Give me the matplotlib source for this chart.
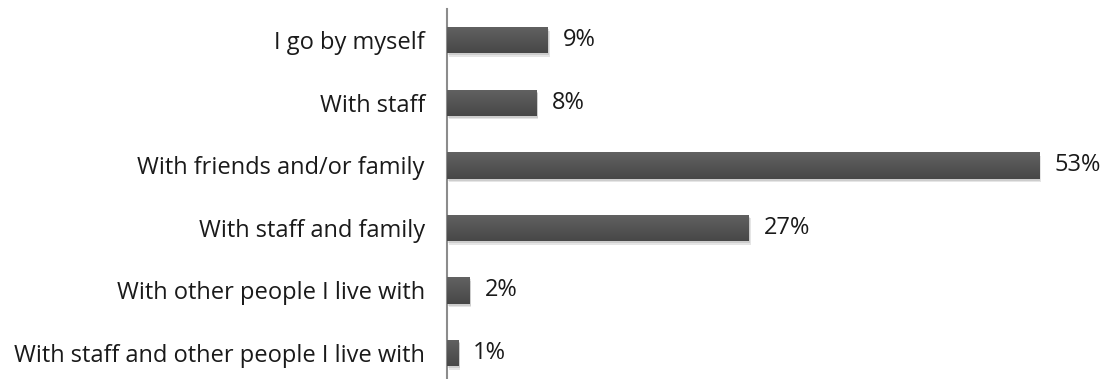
import matplotlib
matplotlib.use("Agg")
import matplotlib.pyplot as plt
import matplotlib.patheffects as pe
import numpy as np

categories = [
    "I go by myself",
    "With staff",
    "With friends and/or family",
    "With staff and family",
    "With other people I live with",
    "With staff and other people I live with",
]
percent = [9, 8, 53, 27, 2, 1]
value_labels = ["9%", "8%", "53%", "27%", "2%", "1%"]

plt.rcParams["font.family"] = ["Open Sans", "DejaVu Sans"]
FS = 17

fig = plt.figure(figsize=(11.08, 3.79), dpi=100)
ax = fig.add_axes([447 / 1108, 0.0, (1100 - 447) / 1108, 1 - 9 / 379])

pos = list(range(len(categories)))
bars = ax.barh(pos, percent, height=0.42, color="#505050", zorder=3)

# soft drop shadow under each bar
for b in bars:
    b.set_path_effects([
        pe.SimplePatchShadow(offset=(1.5, -2.5), shadow_rgbFace="#000000", alpha=0.10),
        pe.SimplePatchShadow(offset=(1, -1.5), shadow_rgbFace="#000000", alpha=0.10),
        pe.Normal(),
    ])

# vertical shading: lighter top edge, darker bottom edge
grad = np.linspace(0, 1, 64).reshape(-1, 1)
cmap = matplotlib.colors.LinearSegmentedColormap.from_list("bar", ["#626262", "#474747"])
for b in bars:
    x0, y0 = b.get_x(), b.get_y()
    w, h = b.get_width(), b.get_height()
    im = ax.imshow(grad, cmap=cmap, aspect="auto", extent=(x0, x0 + w, y0 + h, y0),
                   zorder=4, interpolation="bilinear")
    im.set_clip_path(b)

for p, v, lab in zip(pos, percent, value_labels):
    ax.text(v + 1.35, p, lab, va="center", ha="left", fontsize=FS, color="#1a1a1a")

ax.set_xlim(0, (1100 - 447) / 11.17)
ax.set_ylim(5 + 26 / 62.6, -0.5)
ax.set_yticks(pos)
ax.set_yticklabels(categories, fontsize=FS, color="#1a1a1a")
ax.tick_params(axis="y", length=0, pad=16)
ax.set_xticks([])

for side in ["top", "right", "bottom"]:
    ax.spines[side].set_visible(False)
ax.spines["left"].set_color("#8c8c8c")
ax.spines["left"].set_linewidth(1.5)

fig.savefig("out.png", dpi=100)
